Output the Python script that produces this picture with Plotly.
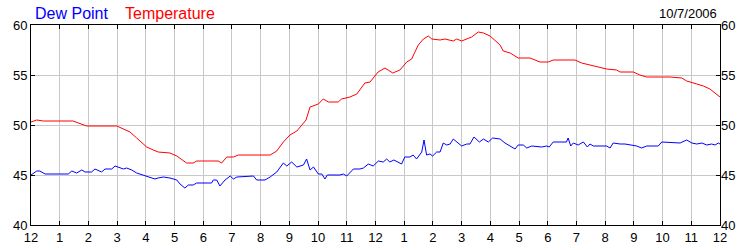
import plotly.graph_objects as go

# hours since midnight (0..24) and readings in °F
temp_hours = [0.0, 0.2, 0.43, 1.47, 1.65, 1.82, 1.94, 2.99, 3.22, 3.45, 3.68, 4.03, 4.26, 4.43, 4.84,
              5.08, 5.42, 5.65, 5.77, 6.52, 6.64, 6.82, 7.05, 7.22, 8.33, 8.56, 8.79, 9.02, 9.26,
              9.43, 9.58, 9.72, 10.01, 10.18, 10.36, 10.70, 10.82, 11.11, 11.35, 11.63, 11.81,
              12.09, 12.33, 12.60, 12.85, 13.09, 13.26, 13.49, 13.67, 13.84, 13.96, 14.25, 14.42,
              14.71, 14.83, 15.00, 15.18, 15.35, 15.58, 15.76, 15.99, 16.16, 16.34, 16.45, 16.69,
              16.97, 17.38, 17.73, 18.02, 18.19, 18.95, 19.18, 19.47, 19.82, 20.05, 20.40, 20.52,
              20.98, 21.21, 21.45, 22.26, 22.67, 22.84, 23.19, 23.42, 23.65, 23.83, 24.0]
temp_values = [50.3, 50.5, 50.4, 50.4, 50.2, 50.0, 49.9, 49.9, 49.6, 49.3, 48.7, 47.8, 47.5, 47.3, 47.2,
               46.9, 46.2, 46.2, 46.4, 46.4, 46.2, 46.8, 46.8, 47.0, 47.0, 47.4, 48.3, 49.0, 49.4,
               50.0, 50.5, 51.8, 52.1, 52.6, 52.3, 52.3, 52.6, 52.8, 53.1, 54.2, 54.3,
               55.3, 55.7, 55.2, 55.5, 56.3, 56.6, 58.0, 58.6, 58.9, 58.6, 58.5, 58.6,
               58.4, 58.6, 58.4, 58.6, 58.8, 59.3, 59.2, 58.9, 58.5, 58.0, 57.4, 57.2,
               56.7, 56.7, 56.3, 56.3, 56.5, 56.5, 56.2, 56.0, 55.8, 55.6, 55.5, 55.3,
               55.3, 55.0, 54.8, 54.8, 54.7, 54.4, 54.1, 53.9, 53.6, 53.2, 52.8]

dew_hours = [0.0, 0.2, 0.31, 0.49, 1.30, 1.42, 1.59, 1.77, 1.88, 2.11, 2.23, 2.46, 2.58, 2.81, 2.93,
             3.10, 3.22, 3.33, 3.51, 3.68, 3.80, 3.97, 4.15, 4.32, 4.43, 4.61, 4.84, 5.08, 5.19,
             5.36, 5.48, 5.65, 5.77, 6.29, 6.35, 6.47, 6.58, 6.76, 6.94, 7.05, 7.17, 7.75, 7.86,
             8.15, 8.33, 8.56, 8.79, 8.91, 9.08, 9.26, 9.49, 9.60, 9.72, 9.84, 10.01, 10.13,
             10.24, 10.32, 10.76, 10.88, 11.00, 11.23, 11.46, 11.58, 11.75, 11.92, 12.10, 12.27,
             12.39, 12.50, 12.64, 12.79, 12.91, 13.02, 13.20, 13.31, 13.43, 13.61, 13.69, 13.78,
             13.90, 13.99, 14.13, 14.25, 14.36, 14.48, 14.60, 14.71, 14.83, 15.00, 15.18, 15.29,
             15.43, 15.62, 15.76, 15.93, 16.08, 16.34, 16.51, 16.69, 16.86, 16.97, 17.15, 17.27,
             17.44, 17.79, 17.96, 18.05, 18.19, 18.65, 18.71, 18.80, 18.89, 19.06, 19.24, 19.38,
             19.47, 19.59, 20.05, 20.17, 20.28, 20.52, 20.69, 21.10, 21.27, 21.45, 21.85, 21.97,
             22.61, 22.84, 23.02, 23.19, 23.37, 23.54, 23.71, 23.83, 23.94, 24.0]
dew_values = [45.0, 45.4, 45.4, 45.1, 45.1, 45.4, 45.2, 45.5, 45.3, 45.3, 45.6, 45.3, 45.6, 45.6, 45.9,
              45.7, 45.6, 45.7, 45.5, 45.2, 45.1, 44.9, 44.8, 44.6, 44.7, 44.8, 44.7, 44.5, 44.1,
              43.7, 44.0, 44.0, 44.2, 44.2, 44.5, 44.5, 43.9, 44.5, 44.9, 44.6, 44.8, 44.9, 44.5,
              44.5, 44.8, 45.3, 46.2, 45.9, 46.3, 45.8, 46.0, 46.6, 45.5, 45.8, 45.1, 45.1,
              44.6, 45.0, 45.0, 45.1, 44.9, 45.6, 45.6, 45.7, 46.1, 45.9, 46.4, 46.3,
              46.6, 46.3, 46.5, 46.3, 46.1, 46.8, 46.8, 47.0, 46.6, 47.3, 48.5, 47.0,
              47.1, 46.9, 47.3, 47.3, 48.2, 48.0, 48.1, 48.6, 48.3, 47.9, 48.1, 48.1,
              48.8, 48.3, 48.6, 48.3, 48.7, 48.6, 48.2, 47.9, 47.6, 48.0, 48.0, 47.7,
              47.9, 47.8, 47.9, 47.8, 48.3, 48.3, 48.7, 47.9, 48.2, 48.0, 48.3, 47.8,
              48.1, 47.9, 47.9, 47.7, 48.2, 48.1, 48.1, 47.9, 47.7, 47.9, 47.9, 48.3,
              48.2, 48.5, 48.2, 48.1, 48.2, 48.0, 48.1, 48.0, 48.2, 48.1]

x_tick_vals = list(range(0, 25))
x_tick_text = ["12", "1", "2", "3", "4", "5", "6", "7", "8", "9", "10", "11",
               "12", "1", "2", "3", "4", "5", "6", "7", "8", "9", "10", "11", "12"]
y_tick_vals = [40, 45, 50, 55, 60]
date_label = "10/7/2006"

FONT = "Liberation Sans, Arial, sans-serif"

fig = go.Figure()
fig.add_trace(go.Scatter(x=temp_hours, y=temp_values, mode="lines", name="Temperature",
                         line=dict(color="#ff0000", width=1)))
fig.add_trace(go.Scatter(x=dew_hours, y=dew_values, mode="lines", name="Dew Point",
                         line=dict(color="#0000ff", width=1)))
fig.add_trace(go.Scatter(x=[None], y=[None], yaxis="y2", showlegend=False, hoverinfo="skip"))

fig.update_layout(
    width=750, height=250,
    margin=dict(l=31, r=30, t=25, b=25, autoexpand=False),
    paper_bgcolor="white", plot_bgcolor="white",
    showlegend=False,
    font=dict(family=FONT, size=13, color="#000000"),
    xaxis=dict(range=[0, 24], tickmode="array", tickvals=x_tick_vals, ticktext=x_tick_text,
               showgrid=True, gridcolor="#c8c8c8", gridwidth=1, zeroline=False,
               showline=True, linecolor="#000000", linewidth=1, mirror="ticks",
               ticks="inside", ticklen=4, tickcolor="#000000", automargin=False,
               tickfont=dict(family=FONT, size=13, color="#000000")),
    yaxis=dict(range=[40, 60], tickmode="array", tickvals=y_tick_vals,
               showgrid=True, gridcolor="#c8c8c8", gridwidth=1, zeroline=False,
               showline=True, linecolor="#000000", linewidth=1, mirror="ticks",
               ticks="inside", ticklen=4, tickcolor="#000000", automargin=False,
               tickfont=dict(family=FONT, size=13, color="#000000")),
    yaxis2=dict(range=[40, 60], tickmode="array", tickvals=y_tick_vals, overlaying="y",
                side="right", showgrid=False, zeroline=False, showline=False,
                ticks="", automargin=False,
                tickfont=dict(family=FONT, size=13, color="#000000")),
    annotations=[
        dict(text="Dew Point", x=(33 - 31) / 689, xref="paper", y=1.0, yref="paper",
             showarrow=False, xanchor="left", yanchor="bottom", yshift=1,
             font=dict(family=FONT, size=16, color="#0000ff")),
        dict(text="Temperature", x=(123 - 31) / 689, xref="paper", y=1.0, yref="paper",
             showarrow=False, xanchor="left", yanchor="bottom", yshift=1,
             font=dict(family=FONT, size=16, color="#ff0000")),
        dict(text=date_label, x=(719 - 31) / 689, xref="paper", y=1.0, yref="paper",
             showarrow=False, xanchor="right", yanchor="bottom", yshift=2,
             font=dict(family=FONT, size=13, color="#000000")),
    ],
)

fig.write_html("out.html")
